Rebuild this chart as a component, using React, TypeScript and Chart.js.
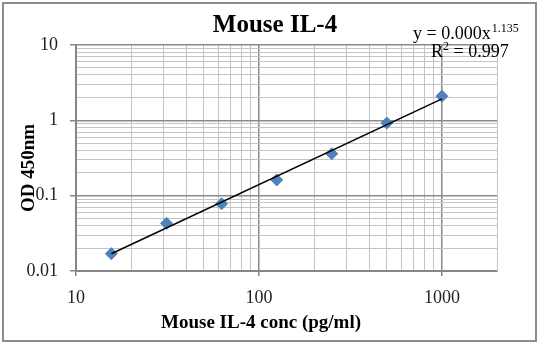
import React, { useEffect, useRef } from "react";
import { Chart, registerables } from "chart.js";

Chart.register(...registerables);

const chartTitle = "Mouse IL-4";
const xAxisTitle = "Mouse IL-4 conc (pg/ml)";
const yAxisTitle = "OD 450nm";
const concentrations = [15.6, 31.25, 62.5, 125, 250, 500, 1000];
const odValues = [0.017, 0.043, 0.078, 0.162, 0.36, 0.92, 2.09];
const xTickValues = [10, 20, 30, 40, 50, 60, 70, 80, 90, 100, 200, 300, 400, 500, 600, 700, 800, 900, 1000, 2000];
const xTickLabels = ["10", "100", "1000"];
const yTickValues = [0.01, 0.02, 0.03, 0.04, 0.05, 0.06, 0.07, 0.08, 0.09, 0.1, 0.2, 0.3, 0.4, 0.5, 0.6, 0.7, 0.8, 0.9, 1, 2, 3, 4, 5, 6, 7, 8, 9, 10];
const yTickLabels = ["0.01", "0.1", "1", "10"];
const eqMain = "y = 0.000x";
const eqExp = "1.135";
const r2Value = "0.997";

const SERIF = "'Liberation Serif', 'Times New Roman', serif";

function isMajor(v: number) {
  const l = Math.log10(v);
  return Math.abs(l - Math.round(l)) < 1e-9;
}

function labelFor(v: number, labels: string[]) {
  if (!isMajor(v)) return "";
  const s = labels.find((t) => Math.abs(parseFloat(t) - v) < 1e-12);
  return s ?? "";
}

// power trendline fit from the data
function powerFit(xs: number[], ys: number[]) {
  const n = xs.length;
  let sx = 0, sy = 0, sxx = 0, sxy = 0;
  for (let i = 0; i < n; i++) {
    const lx = Math.log(xs[i]);
    const ly = Math.log(ys[i]);
    sx += lx; sy += ly; sxx += lx * lx; sxy += lx * ly;
  }
  const b = (n * sxy - sx * sy) / (n * sxx - sx * sx);
  const a = Math.exp((sy - b * sx) / n);
  return { a, b };
}

const decorPlugin = {
  id: "decor",
  beforeDraw(chart: any) {
    const ctx = chart.ctx;
    ctx.save();
    ctx.fillStyle = "#ffffff";
    ctx.fillRect(0, 0, chart.width, chart.height);
    ctx.strokeStyle = "#8c8c8c";
    ctx.lineWidth = 2;
    ctx.strokeRect(3, 3, chart.width - 6, chart.height - 7);
    ctx.restore();
  },
  afterDraw(chart: any) {
    const ctx = chart.ctx;
    ctx.save();
    ctx.fillStyle = "#000000";
    // title
    ctx.font = `bold 25px ${SERIF}`;
    ctx.textAlign = "center";
    ctx.textBaseline = "alphabetic";
    ctx.fillText(chartTitle, 275, 32);
    // x axis title
    ctx.font = `bold 19px ${SERIF}`;
    ctx.fillText(xAxisTitle, 261, 328);
    // y axis title
    ctx.save();
    ctx.translate(34, 168);
    ctx.rotate(-Math.PI / 2);
    ctx.fillText(yAxisTitle, 0, 0);
    ctx.restore();
    // equation
    ctx.textAlign = "left";
    ctx.font = `18px ${SERIF}`;
    let x = 413;
    ctx.fillText(eqMain, x, 39);
    x += ctx.measureText(eqMain).width;
    ctx.font = `12px ${SERIF}`;
    ctx.fillText(eqExp, x + 1, 32);
    ctx.font = `18px ${SERIF}`;
    x = 431;
    ctx.fillText("R", x, 57);
    x += ctx.measureText("R").width;
    ctx.font = `12px ${SERIF}`;
    ctx.fillText("2", x, 50);
    x += ctx.measureText("2").width;
    ctx.font = `18px ${SERIF}`;
    ctx.fillText(" = " + r2Value, x, 57);
    ctx.restore();
  },
};

export default function App() {
  const ref = useRef<HTMLCanvasElement>(null);
  useEffect(() => {
    if (!ref.current) return;
    const { a, b } = powerFit(concentrations, odValues);
    const xStart = concentrations[0];
    const xEnd = concentrations[concentrations.length - 1];
    const trend = [
      { x: xStart, y: a * Math.pow(xStart, b) },
      { x: xEnd, y: a * Math.pow(xEnd, b) },
    ];
    const points = concentrations.map((c, i) => ({ x: c, y: odValues[i] }));
    const gridColor = (ctx: any) => (ctx.tick && isMajor(ctx.tick.value) ? "#8a8a8a" : "#c4c4c4");
    const gridWidth = (ctx: any) => (ctx.tick && isMajor(ctx.tick.value) ? 1.5 : 1);
    const tickColor = (ctx: any) => (ctx.tick && isMajor(ctx.tick.value) ? "#868686" : "rgba(0,0,0,0)");
    const chart = new Chart(ref.current, {
      type: "scatter",
      data: {
        datasets: [
          {
            type: "line",
            label: "Trendline",
            data: trend,
            borderColor: "#000000",
            borderWidth: 1.5,
            pointRadius: 0,
            fill: false,
            order: 0,
          } as any,
          {
            label: "OD",
            data: points,
            pointStyle: "rectRot",
            pointRadius: 6,
            pointBackgroundColor: "#4F81BD",
            pointBorderColor: "#4F81BD",
            pointBorderWidth: 1,
            order: 1,
          },
        ],
      },
      options: {
        responsive: false,
        animation: false,
        layout: { padding: { top: 45, right: 42, left: 0, bottom: 0 } },
        plugins: {
          legend: { display: false },
          tooltip: { enabled: false },
          title: { display: false },
        },
        scales: {
          x: {
            type: "logarithmic",
            min: 10,
            max: 2000,
            afterBuildTicks: (scale: any) => {
              scale.ticks = xTickValues.map((v) => ({ value: v, major: isMajor(v) }));
            },
            afterFit: (scale: any) => {
              scale.height = 74;
            },
            ticks: {
              autoSkip: false,
              maxRotation: 0,
              padding: 11,
              color: "#222222",
              font: { family: SERIF, size: 18 },
              callback: (v: any) => labelFor(Number(v), xTickLabels),
            },
            grid: { color: gridColor, lineWidth: gridWidth, tickColor, tickLength: 5, drawTicks: true },
            border: { display: true, color: "#868686", width: 2 },
          },
          y: {
            type: "logarithmic",
            min: 0.01,
            max: 10,
            afterBuildTicks: (scale: any) => {
              scale.ticks = yTickValues.map((v) => ({ value: v, major: isMajor(v) }));
            },
            afterFit: (scale: any) => {
              scale.width = 76;
            },
            ticks: {
              autoSkip: false,
              padding: 12,
              color: "#222222",
              font: { family: SERIF, size: 18 },
              callback: (v: any) => labelFor(Number(v), yTickLabels),
            },
            grid: { color: gridColor, lineWidth: gridWidth, tickColor, tickLength: 6, drawTicks: true },
            border: { display: true, color: "#868686", width: 2 },
          },
        },
      },
      plugins: [decorPlugin],
    } as any);
    return () => chart.destroy();
  }, []);
  return (
    <div style={{ position: "absolute", left: 0, top: 0, width: 539, height: 345 }}>
      <canvas ref={ref} width={539} height={345} style={{ width: 539, height: 345, display: "block" }} />
    </div>
  );
}
